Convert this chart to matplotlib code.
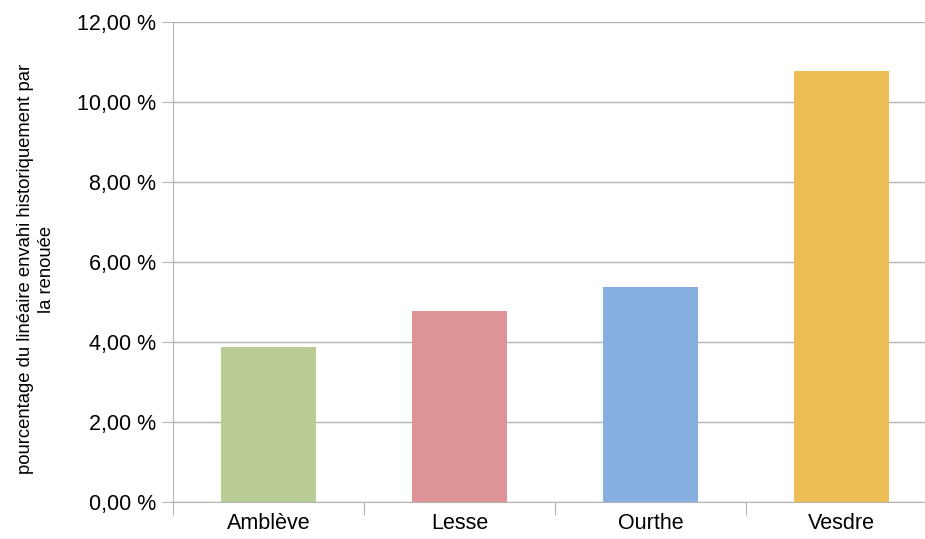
import matplotlib
matplotlib.use("Agg")
import matplotlib.pyplot as plt
from matplotlib.ticker import FuncFormatter, FixedLocator, NullFormatter

categories = ["Amblève", "Lesse", "Ourthe", "Vesdre"]
values = [3.88, 4.78, 5.38, 10.78]
colors = ["#b8cc94", "#de9496", "#87aee0", "#edbe55"]

plt.rcParams["font.family"] = ["Liberation Sans", "DejaVu Sans"]

fig = plt.figure(figsize=(9.25, 5.39), dpi=100)
ax = fig.add_axes([0.187, 0.0686, 0.826, 0.8905])

x = list(range(len(categories)))
ax.bar(x, values, width=0.5, color=colors, zorder=3)

ax.set_xlim(-0.5, len(categories) - 0.5)
ax.set_ylim(0, 12)
ax.set_yticks(range(0, 13, 2))
ax.yaxis.set_major_formatter(FuncFormatter(lambda v, p: f"{v:.2f}".replace(".", ",") + " %"))
ax.grid(axis="y", color="#b3b3b3", linewidth=1, zorder=0)

ax.xaxis.set_major_locator(FixedLocator([i - 0.5 for i in range(len(categories) + 1)]))
ax.xaxis.set_major_formatter(NullFormatter())
ax.xaxis.set_minor_locator(FixedLocator(x))
ax.set_xticklabels(categories, minor=True)
ax.tick_params(axis="x", which="minor", length=0, labelsize=15.5, pad=8)
ax.tick_params(axis="x", which="major", length=9, color="#b3b3b3")
ax.tick_params(axis="y", length=8, color="#b3b3b3", labelsize=15.5, pad=4)

for side in ["top", "right"]:
    ax.spines[side].set_visible(False)
for side in ["left", "bottom"]:
    ax.spines[side].set_color("#b3b3b3")

ax.set_ylabel("pourcentage du linéaire envahi historiquement par\nla renouée",
              fontsize=13.3, linespacing=1.25)
ax.yaxis.set_label_coords(-0.155, 0.485)

fig.savefig("out.png", dpi=100)
